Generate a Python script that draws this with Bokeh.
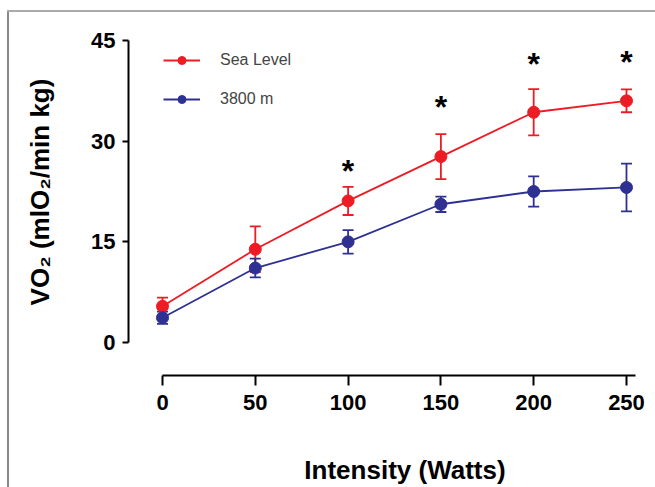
from bokeh.plotting import figure
from bokeh.models import (ColumnDataSource, Range1d, FixedTicker, Whisker, TeeHead,
                          Legend, LegendItem, InlineStyleSheet)
from bokeh.core.properties import value
from bokeh.embed import file_html
from bokeh.resources import INLINE

# ---- data ----
watts = [0, 50, 100, 150, 200, 250]
sea_level_mean = [5.4, 13.9, 21.1, 27.7, 34.3, 36.0]
sea_level_err = [1.3, 3.4, 2.1, 3.35, 3.45, 1.7]
altitude_mean = [3.7, 11.1, 15.0, 20.6, 22.5, 23.1]
altitude_err = [0.9, 1.4, 1.75, 1.15, 2.25, 3.55]
sig_watts = [100, 150, 200, 250]
sig_level = [26.0, 35.5, 42.0, 42.3]
x_ticks = [0, 50, 100, 150, 200, 250]
y_ticks = [0, 15, 30, 45]

RED = "#ED1C24"
BLUE = "#2E3192"
FONT = "Liberation Sans"

p = figure(width=655, height=487,
           x_range=Range1d(-18.32, 265.63), y_range=Range1d(-4.90, 49.75),
           output_backend="svg", toolbar_location=None,
           min_border_left=128, min_border_right=0,
           min_border_top=8, min_border_bottom=111)
p.outline_line_color = None
p.xgrid.grid_line_color = None
p.ygrid.grid_line_color = None
p.background_fill_color = "white"
p.border_fill_color = "white"

def series(mean, err, color):
    src = ColumnDataSource(dict(x=watts, y=mean,
                                upper=[m + e for m, e in zip(mean, err)],
                                lower=[m - e for m, e in zip(mean, err)]))
    w = Whisker(source=src, base="x", upper="upper", lower="lower",
                line_color=color, line_width=1.8,
                upper_head=TeeHead(size=11, line_color=color, line_width=1.8),
                lower_head=TeeHead(size=11, line_color=color, line_width=1.8))
    p.add_layout(w)
    lr = p.line("x", "y", source=src, line_color=color, line_width=1.8)
    sr = p.scatter("x", "y", source=src, size=12, fill_color=color, line_color=color)
    return lr, sr

sl_line, sl_pts = series(sea_level_mean, sea_level_err, RED)
al_line, al_pts = series(altitude_mean, altitude_err, BLUE)

# significance asterisks
p.text(x=sig_watts, y=sig_level, text=["*"] * len(sig_watts),
       text_font=value(FONT), text_font_style="bold", text_font_size="32px",
       text_align="center", text_baseline="alphabetic", y_offset=3,
       text_color="black")

# axes
for ax in (p.xaxis, p.yaxis):
    ax.axis_line_color = "black"
    ax.axis_line_width = 2
    ax.major_tick_line_color = "black"
    ax.major_tick_line_width = 2
    ax.major_tick_in = 0
    ax.minor_tick_line_color = None
    ax.major_label_text_font = FONT
    ax.major_label_text_font_style = "bold"
    ax.major_label_text_font_size = "22px"
    ax.major_label_text_color = "black"
    ax.axis_label_text_font = FONT
    ax.axis_label_text_font_style = "bold"
    ax.axis_label_text_color = "black"

p.xaxis.ticker = FixedTicker(ticks=x_ticks)
p.xaxis.bounds = (0, 255)
p.xaxis.major_tick_out = 10
p.xaxis.major_label_standoff = 9
# leading en spaces shift the centred title right, as in the original figure
p.xaxis.axis_label = "\u2002\u2002Intensity (Watts)"
p.xaxis.axis_label_text_font_size = "26px"
p.xaxis.axis_label_standoff = 42

p.yaxis.ticker = FixedTicker(ticks=y_ticks)
p.yaxis.bounds = (0, 45)
p.yaxis.major_tick_out = 6
p.yaxis.major_label_standoff = 7
p.yaxis.axis_label = "VO\u2082 (mlO\u2082/min kg)"
p.yaxis.axis_label_text_font_size = "26px"
p.yaxis.axis_label_standoff = 33

legend = Legend(items=[LegendItem(label="Sea Level", renderers=[sl_line, sl_pts]),
                       LegendItem(label="3800 m", renderers=[al_line, al_pts])],
                location=(35, 266), padding=0, margin=0, spacing=19,
                glyph_width=37, glyph_height=20, label_height=20, label_standoff=20,
                label_text_font=FONT, label_text_font_size="16px",
                border_line_color=None, background_fill_alpha=0)
p.add_layout(legend)

# outer frame lines (top and left) of the original figure panel
p.stylesheets = [InlineStyleSheet(css="""
:host::before { content: ""; position: absolute; left: 7px; top: 10px; width: 2px;
                height: 477px; background: #888888; z-index: 100; pointer-events: none; }
:host::after { content: ""; position: absolute; left: 7px; top: 10px; width: 648px;
               height: 2px; background: #aaaaaa; z-index: 100; pointer-events: none; }
""")]

open("out.html", "w").write(file_html(p, INLINE))
